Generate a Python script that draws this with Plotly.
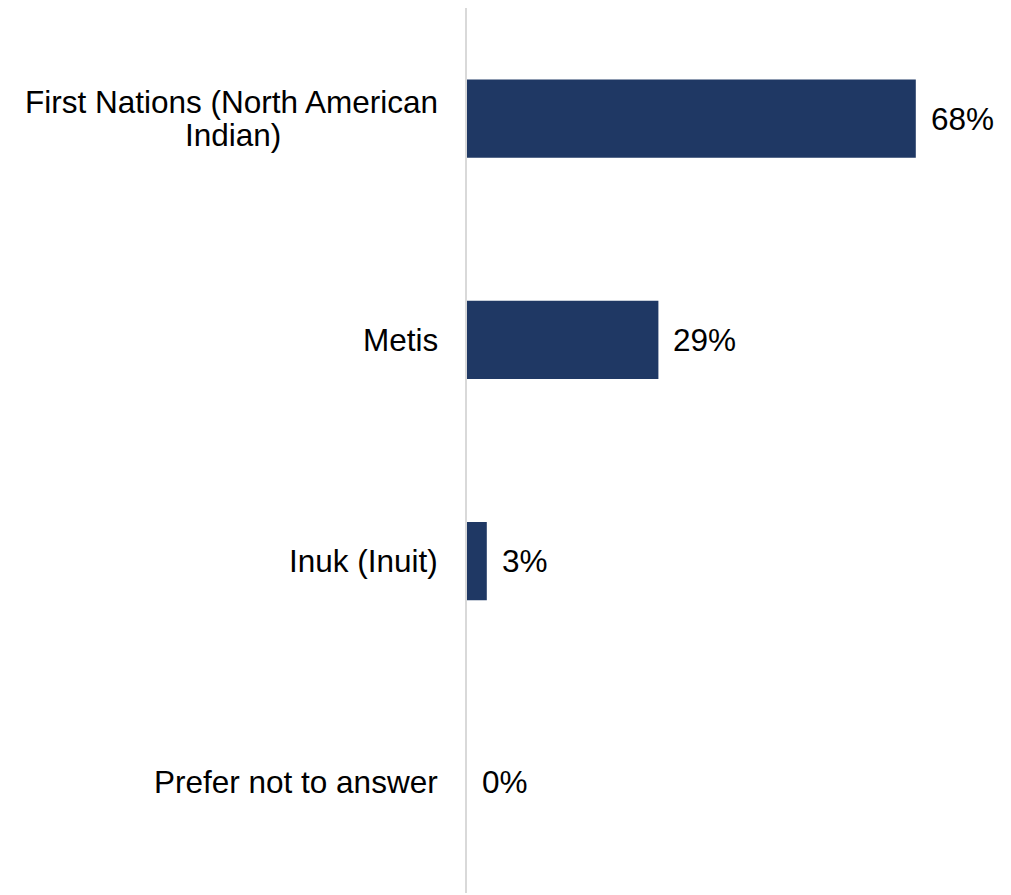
import plotly.graph_objects as go

categories = ["First Nations (North American Indian)", "Metis", "Inuk (Inuit)", "Prefer not to answer"]
label_lines = [["First Nations (North American", "Indian)"], ["Metis"], ["Inuk (Inuit)"], ["Prefer not to answer"]]
values = [68, 29, 3, 0]
labels = ["68%", "29%", "3%", "0%"]

FONT = "Liberation Sans, Arial, sans-serif"
FS = 31.5
LABEL_GAP = 27       # px between category label and axis
LINE_STEP = 16.5     # half line spacing for wrapped labels
TEXT_W_EM = 13.17    # width of first wrapped line in em (Arial metrics)

fig = go.Figure(go.Bar(
    x=values, y=categories, orientation="h",
    marker=dict(color="#1f3864", line=dict(width=0)),
    hoverinfo="skip",
))

for v, c, t, lines in zip(values, categories, labels, label_lines):
    fig.add_annotation(x=v, y=c, text=t, showarrow=False, xanchor="left",
                       xshift=13, font=dict(family=FONT, size=FS, color="#000000"))
    if len(lines) == 1:
        fig.add_annotation(x=0, xref="paper", y=c, text=lines[0], showarrow=False,
                           xanchor="right", xshift=-LABEL_GAP,
                           font=dict(family=FONT, size=FS, color="#000000"))
    else:
        fig.add_annotation(x=0, xref="paper", y=c, text=lines[0], showarrow=False,
                           xanchor="right", xshift=-LABEL_GAP, yshift=LINE_STEP,
                           font=dict(family=FONT, size=FS, color="#000000"))
        fig.add_annotation(x=0, xref="paper", y=c, text=lines[1], showarrow=False,
                           xanchor="center", xshift=-LABEL_GAP - TEXT_W_EM * FS / 2,
                           yshift=-LINE_STEP,
                           font=dict(family=FONT, size=FS, color="#000000"))

fig.update_layout(
    width=1011, height=895,
    margin=dict(l=459, r=24, t=0, b=10),
    plot_bgcolor="white", paper_bgcolor="white",
    bargap=0.647,
    showlegend=False,
    xaxis=dict(range=[0, 80], showgrid=False, zeroline=False, showticklabels=False,
               showline=False, fixedrange=True),
    yaxis=dict(autorange="reversed", showgrid=False, zeroline=False,
               showticklabels=False, showline=True, linecolor="#d9d9d9", linewidth=2,
               fixedrange=True),
)

fig.write_html("out.html")
